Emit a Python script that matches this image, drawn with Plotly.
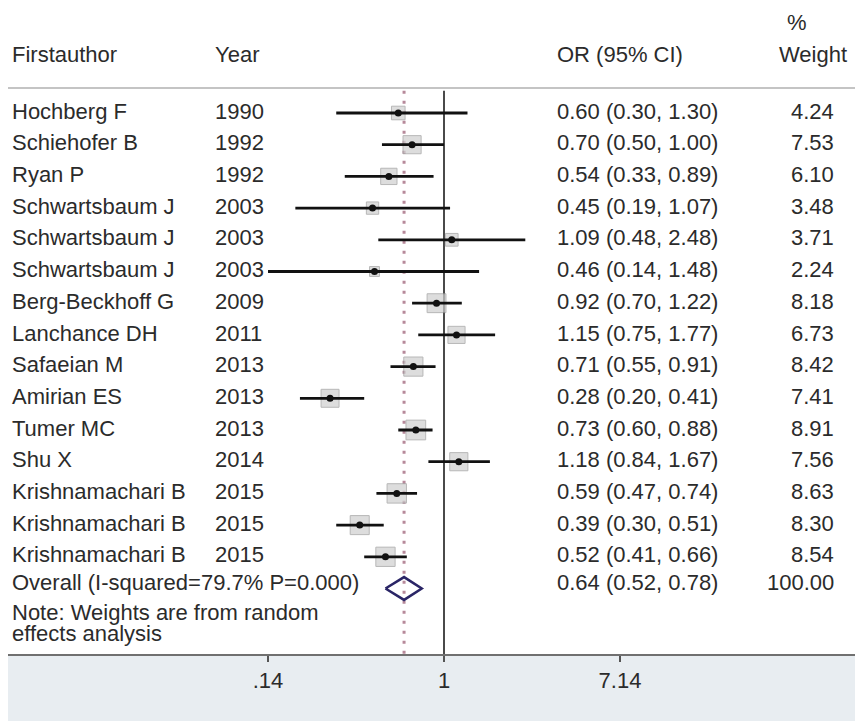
import plotly.graph_objects as go

authors = ["Hochberg F", "Schiehofer B", "Ryan P", "Schwartsbaum J", "Schwartsbaum J",
           "Schwartsbaum J", "Berg-Beckhoff G", "Lanchance DH", "Safaeian M", "Amirian ES",
           "Tumer MC", "Shu X", "Krishnamachari B", "Krishnamachari B", "Krishnamachari B"]
years = ["1990", "1992", "1992", "2003", "2003", "2003", "2009", "2011", "2013", "2013",
         "2013", "2014", "2015", "2015", "2015"]
or_est = [0.60, 0.70, 0.54, 0.45, 1.09, 0.46, 0.92, 1.15, 0.71, 0.28, 0.73, 1.18, 0.59, 0.39, 0.52]
ci_lo = [0.30, 0.50, 0.33, 0.19, 0.48, 0.14, 0.70, 0.75, 0.55, 0.20, 0.60, 0.84, 0.47, 0.30, 0.41]
ci_hi = [1.30, 1.00, 0.89, 1.07, 2.48, 1.48, 1.22, 1.77, 0.91, 0.41, 0.88, 1.67, 0.74, 0.51, 0.66]
weights = [4.24, 7.53, 6.10, 3.48, 3.71, 2.24, 8.18, 6.73, 8.42, 7.41, 8.91, 7.56, 8.63, 8.30, 8.54]

overall_label = "Overall (I-squared=79.7% P=0.000)"
overall_or, overall_lo, overall_hi = 0.64, 0.52, 0.78
overall_weight = "100.00"
tick_vals = [0.14, 1, 7.14]
tick_text = [".14", "1", "7.14"]

# page is offset by the default 8px body margin
OFF = 8
W, H = 863 - OFF, 721 - OFF
FONT = "Liberation Sans, Arial, sans-serif"
TXT = "#2b2b2b"
FS = 22

rows = list(range(1, len(authors) + 1))
overall_row = len(authors) + 1

fig = go.Figure()

top_y = 0.3
bot_y = 18.066
fig.add_trace(go.Scatter(x=[1, 1], y=[top_y, bot_y], mode="lines",
                         line=dict(color="#4a4a4a", width=2), hoverinfo="skip", showlegend=False))
fig.add_trace(go.Scatter(x=[overall_or, overall_or], y=[top_y, bot_y], mode="lines",
                         line=dict(color="#b7899a", width=3, dash="3px,7px"),
                         hoverinfo="skip", showlegend=False))

# weight boxes
fig.add_trace(go.Scatter(x=or_est, y=rows, mode="markers",
                         marker=dict(symbol="square", size=[6.6 * w ** 0.5 for w in weights],
                                     color="#cfcfcf", line=dict(color="#9a9a9a", width=1)),
                         hoverinfo="skip", showlegend=False))

# CI lines
cx, cy = [], []
for lo, hi, r in zip(ci_lo, ci_hi, rows):
    cx += [lo, hi, None]
    cy += [r, r, None]
fig.add_trace(go.Scatter(x=cx, y=cy, mode="lines", line=dict(color="#111111", width=2.8),
                         hoverinfo="skip", showlegend=False))

# point estimates
fig.add_trace(go.Scatter(x=or_est, y=rows, mode="markers",
                         marker=dict(symbol="circle", size=7, color="#111111"),
                         hoverinfo="skip", showlegend=False))

# overall diamond
h = 0.36
fig.add_trace(go.Scatter(x=[overall_lo, overall_or, overall_hi, overall_or, overall_lo],
                         y=[overall_row, overall_row - h, overall_row, overall_row + h, overall_row],
                         mode="lines", line=dict(color="#2a2566", width=2.5),
                         hoverinfo="skip", showlegend=False))

ann = []
def txt(x_px, y, s, anchor="left", size=FS):
    ann.append(dict(x=(x_px - OFF) / W, xref="paper", y=y, yref="y", text=s, showarrow=False,
                    xanchor=anchor, yanchor="middle", font=dict(family=FONT, size=size, color=TXT)))

# headers
txt(10, -0.83, "Firstauthor")
txt(213, -0.83, "Year")
txt(555, -0.83, "OR (95% CI)")
txt(797, -1.87, "%", "center")
txt(849, -0.83, "Weight", "right")

for r, a, yv, o, lo, hi, w in zip(rows, authors, years, or_est, ci_lo, ci_hi, weights):
    ty = r - 0.06
    txt(10, ty, a)
    txt(213, ty, yv)
    txt(555, ty, f"{o:.2f} ({lo:.2f}, {hi:.2f})")
    txt(836, ty, f"{w:.2f}", "right")

oy = overall_row - 0.2
txt(10, oy, overall_label)
txt(555, oy, f"{overall_or:.2f} ({overall_lo:.2f}, {overall_hi:.2f})")
txt(836, oy, overall_weight, "right")
txt(10, 16.77, "Note: Weights are from random")
txt(10, 17.43, "effects analysis")

fig.update_layout(
    width=W, height=H,
    margin=dict(l=0, r=0, t=0, b=67),
    paper_bgcolor="#e8edf1",
    plot_bgcolor="white",
    annotations=ann,
    shapes=[dict(type="line", xref="paper", x0=0, x1=1, yref="y", y0=0.21, y1=0.21,
                 line=dict(color="#c4c4c4", width=2))],
    xaxis=dict(type="log", range=[-2.1155, 2.033], showgrid=False, zeroline=False,
               showline=True, linecolor="#707070", linewidth=2,
               ticks="outside", ticklen=6, tickwidth=1.5, tickcolor="#555",
               tickvals=tick_vals, ticktext=tick_text,
               tickfont=dict(family=FONT, size=22, color=TXT)),
    yaxis=dict(range=[bot_y, -2.312], showgrid=False, zeroline=False, visible=False),
)

fig.write_html("out.html")
